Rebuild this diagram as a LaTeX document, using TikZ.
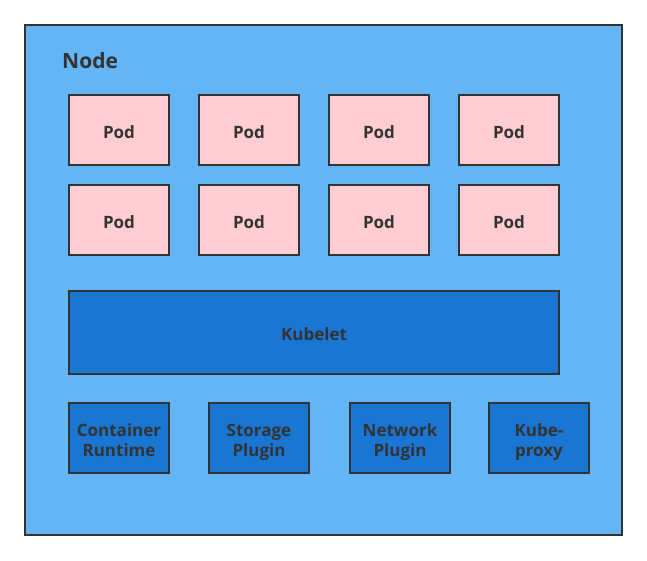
\documentclass[tikz,border=0pt]{standalone}
\usepackage{fontspec}
\setmainfont{Open Sans}
\definecolor{nodebg}{HTML}{64B5F6}
\definecolor{podfill}{HTML}{FFCDD2}
\definecolor{compfill}{HTML}{1976D2}
\definecolor{edge}{HTML}{333333}
\newcommand\boxtext[1]{\raisebox{-4pt}[\height][\depth]{\begin{tabular}{@{}c@{}}#1\end{tabular}}}
\begin{document}
\begin{tikzpicture}[x=1pt,y=-1pt,
  box/.style={draw=edge,line width=2pt,minimum width=100pt,minimum height=70pt,inner sep=0pt,
    font=\fontsize{17pt}{20pt}\selectfont\bfseries,text=edge},
  podbox/.style={box,fill=podfill},
  compbox/.style={box,fill=compfill}]
\useasboundingbox (0,0) rectangle (647,560);
\node[draw=edge,line width=2pt,fill=nodebg,minimum width=597pt,minimum height=510pt,inner sep=0pt] (outer) at (323.5,280) {};
\node[anchor=west,font=\fontsize{21pt}{24pt}\selectfont\bfseries,text=edge,inner sep=0pt] (lbl) at (62,61) {Node};
\node[podbox] (p1) at (119,130) {\boxtext{Pod}};
\node[podbox] (p2) at (249,130) {\boxtext{Pod}};
\node[podbox] (p3) at (379,130) {\boxtext{Pod}};
\node[podbox] (p4) at (509,130) {\boxtext{Pod}};
\node[podbox] (p5) at (119,220) {\boxtext{Pod}};
\node[podbox] (p6) at (249,220) {\boxtext{Pod}};
\node[podbox] (p7) at (379,220) {\boxtext{Pod}};
\node[podbox] (p8) at (509,220) {\boxtext{Pod}};
\node[compbox,minimum width=490pt,minimum height=83pt] (kubelet) at (314,332.5) {\boxtext{Kubelet}};
\node[compbox] (cr) at (119,438) {\boxtext{Container\\Runtime}};
\node[compbox] (sp) at (259,438) {\boxtext{Storage\\Plugin}};
\node[compbox] (np) at (400,438) {\boxtext{Network\\Plugin}};
\node[compbox] (kp) at (539,438) {\boxtext{Kube-\\proxy}};
\end{tikzpicture}
\end{document}
